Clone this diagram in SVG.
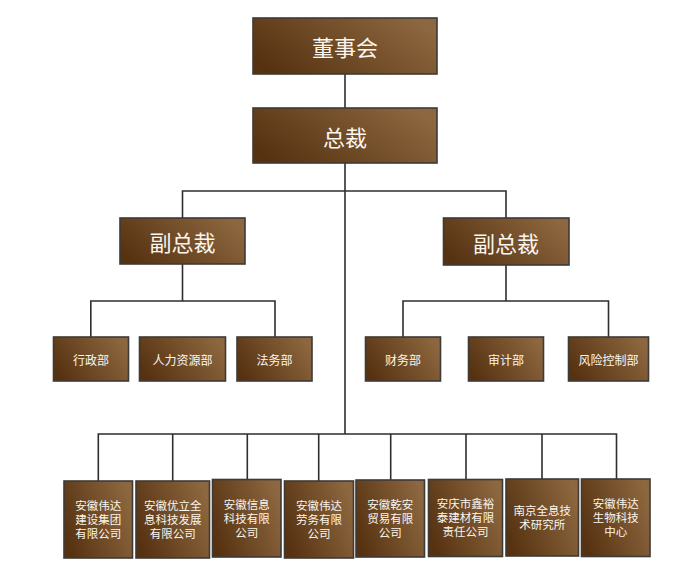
<svg xmlns="http://www.w3.org/2000/svg" width="700" height="578" viewBox="0 0 700 578">
<defs>
<linearGradient id="g" x1="0" y1="0.7" x2="1" y2="0.3">
<stop offset="0" stop-color="#563211"/>
<stop offset="1" stop-color="#8c673f"/>
</linearGradient>
<style>
.box{fill:url(#g);stroke:#3e3a36;stroke-width:1.6}
.t{fill:#fbf6ee;font-family:"Noto Sans CJK SC","Noto Sans",sans-serif;text-anchor:middle;dominant-baseline:central}
.big{font-size:22px}
.mid{font-size:12px}
.sm{font-size:11.5px;font-family:"Liberation Sans","Noto Sans CJK SC",sans-serif}
.c{fill:none;stroke:#2e2e2e;stroke-width:1.6}
</style>
</defs>
<rect width="700" height="578" fill="#ffffff"/>
<g id="connectors">
<path class="c" d="M345 74V108"/>
<path class="c" d="M345 163V434"/>
<path class="c" d="M182.5 218V191H506V218"/>
<path class="c" d="M182.5 264V301"/>
<path class="c" d="M90.8 337V301H275V337"/>
<path class="c" d="M506 265V301"/>
<path class="c" d="M403 337V301H608.5V337"/>
<path class="c" d="M98.3 481V434H616.5V479"/>
<path class="c" d="M172.7 434V481"/>
<path class="c" d="M247.3 434V479"/>
<path class="c" d="M318.7 434V481"/>
<path class="c" d="M390.7 434V480"/>
<path class="c" d="M466 434V479"/>
<path class="c" d="M542 434V479"/>
</g>
<g id="board"><rect class="box" x="253" y="18" width="184" height="56"/><text class="t big" x="345" y="46">董事会</text></g>
<g id="president"><rect class="box" x="253" y="108" width="184" height="55"/><text class="t big" x="345" y="135.5">总裁</text></g>
<g id="vp-left"><rect class="box" x="120" y="218" width="125" height="46"/><text class="t big" x="182.5" y="241">副总裁</text></g>
<g id="vp-right"><rect class="box" x="443.5" y="218" width="125.5" height="47"/><text class="t big" x="506" y="241.5">副总裁</text></g>
<g id="d1"><rect class="box" x="53.5" y="337" width="75" height="44"/><text class="t mid" x="91" y="359">行政部</text></g>
<g id="d2"><rect class="box" x="139.5" y="337" width="86" height="44"/><text class="t mid" x="182.5" y="359">人力资源部</text></g>
<g id="d3"><rect class="box" x="237" y="337" width="75" height="44"/><text class="t mid" x="274.5" y="359">法务部</text></g>
<g id="d4"><rect class="box" x="365.5" y="337" width="75" height="44"/><text class="t mid" x="403" y="359">财务部</text></g>
<g id="d5"><rect class="box" x="468.5" y="337" width="75" height="44"/><text class="t mid" x="506" y="359">审计部</text></g>
<g id="d6"><rect class="box" x="568.5" y="337" width="80" height="44"/><text class="t mid" x="608.5" y="359">风险控制部</text></g>
<g id="c1"><rect class="box" x="64" y="481" width="68.5" height="77"/><text class="t sm"><tspan x="98.3" y="506">安徽伟达</tspan><tspan x="98.3" y="520">建设集团</tspan><tspan x="98.3" y="534">有限公司</tspan></text></g>
<g id="c2"><rect class="box" x="136" y="481" width="73.5" height="77"/><text class="t sm"><tspan x="172.7" y="506">安徽优立全</tspan><tspan x="172.7" y="520">息科技发展</tspan><tspan x="172.7" y="534">有限公司</tspan></text></g>
<g id="c3"><rect class="box" x="212.5" y="479.5" width="68.5" height="77.5"/><text class="t sm"><tspan x="246.7" y="504.5">安徽信息</tspan><tspan x="246.7" y="518.5">科技有限</tspan><tspan x="246.7" y="532.5">公司</tspan></text></g>
<g id="c4"><rect class="box" x="284.5" y="481" width="69" height="77"/><text class="t sm"><tspan x="319" y="506">安徽伟达</tspan><tspan x="319" y="520">劳务有限</tspan><tspan x="319" y="534">公司</tspan></text></g>
<g id="c5"><rect class="box" x="356" y="480" width="68.5" height="77"/><text class="t sm"><tspan x="390.3" y="505">安徽乾安</tspan><tspan x="390.3" y="519">贸易有限</tspan><tspan x="390.3" y="533">公司</tspan></text></g>
<g id="c6"><rect class="box" x="428.5" y="479.5" width="74" height="77"/><text class="t sm"><tspan x="465.5" y="504">安庆市鑫裕</tspan><tspan x="465.5" y="518">泰建材有限</tspan><tspan x="465.5" y="532">责任公司</tspan></text></g>
<g id="c7"><rect class="box" x="506" y="479" width="72.5" height="77"/><text class="t sm"><tspan x="542.3" y="511">南京全息技</tspan><tspan x="542.3" y="525">术研究所</tspan></text></g>
<g id="c8"><rect class="box" x="581.5" y="479" width="68.5" height="77.5"/><text class="t sm"><tspan x="615.8" y="503.5">安徽伟达</tspan><tspan x="615.8" y="517.5">生物科技</tspan><tspan x="615.8" y="531.5">中心</tspan></text></g>
</svg>
